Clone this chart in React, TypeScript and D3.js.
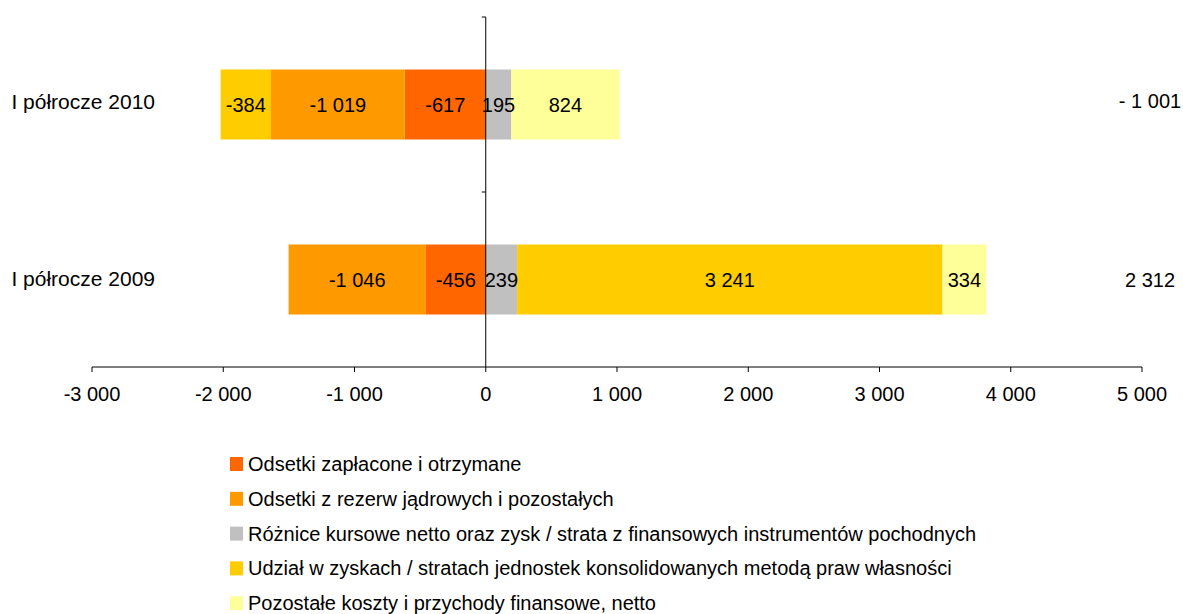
import React from "react";
import * as d3 from "d3";

// categories, top to bottom
const categories = ["I półrocze 2010", "I półrocze 2009"];

// series values (mln zł), same order as categories
const odsetkiZaplacone = [-617, -456];
const odsetkiRezerw = [-1019, -1046];
const roznice = [195, 239];
const udzial = [-384, 3241];
const pozostale = [824, 334];

const seriesNames = [
  "Odsetki zapłacone i otrzymane",
  "Odsetki z rezerw jądrowych i pozostałych",
  "Różnice kursowe netto oraz zysk / strata z finansowych instrumentów pochodnych",
  "Udział w zyskach / stratach jednostek konsolidowanych metodą praw własności",
  "Pozostałe koszty i przychody finansowe, netto",
];
const seriesValues = [odsetkiZaplacone, odsetkiRezerw, roznice, udzial, pozostale];
const colors = ["#FF6600", "#FF9900", "#C0C0C0", "#FFCC00", "#FFFF99"];

const xDomain = [-3000, 5000];

const W = 1183, H = 614;
const margin = { top: 17, left: 92, right: 41, bottom: 247 };
const FONT = "'Liberation Sans', Arial, sans-serif";

const locale = d3.formatLocale({ decimal: ",", thousands: "\u00a0", grouping: [3], currency: ["", " zł"] });
const fmt = locale.format(",d");
const fmtLabel = (v: number) => (v < 0 ? "-" + fmt(-v) : fmt(v));
const fmtTotal = (v: number) => (v < 0 ? "- " + fmt(-v) : fmt(v));

export default function App() {
  const x = d3.scaleLinear().domain(xDomain).range([margin.left, W - margin.right]);
  const y = d3
    .scaleBand()
    .domain(categories)
    .range([margin.top, H - margin.bottom])
    .paddingInner(0.6)
    .paddingOuter(0.3);

  const rows = categories.map((c, i) => {
    const row: any = { cat: c };
    seriesNames.forEach((s, j) => (row[s] = seriesValues[j][i]));
    return row;
  });
  const stacked = d3.stack().keys(seriesNames).offset(d3.stackOffsetDiverging)(rows);

  const axisY = H - margin.bottom;
  const x0 = x(0);
  const ticks = x.ticks(8);
  const mid = (c: string) => (y(c) as number) + y.bandwidth() / 2;

  return (
    <svg width={W} height={H} style={{ position: "absolute", left: 0, top: 0 }} fontFamily={FONT}>
      <rect width={W} height={H} fill="#fff" />

      {/* bars */}
      {stacked.map((s, j) => (
        <g key={seriesNames[j]}>
          {s.map((d: any, i) => {
            const a = x(d[0]), b = x(d[1]);
            return (
              <rect
                key={i}
                x={Math.min(a, b)}
                y={y(categories[i])}
                width={Math.abs(b - a)}
                height={y.bandwidth()}
                fill={colors[j]}
              />
            );
          })}
        </g>
      ))}

      {/* data labels */}
      {stacked.map((s, j) =>
        s.map((d: any, i) => {
          const v = seriesValues[j][i];
          const cx = (x(d[0]) + x(d[1])) / 2;
          return (
            <text
              key={j + "-" + i}
              x={cx}
              y={mid(categories[i])}
              dy="0.35em"
              textAnchor="middle"
              fontSize={20}
              fill="#000"
            >
              {fmtLabel(v)}
            </text>
          );
        })
      )}

      {/* vertical axis at zero */}
      <line x1={x0} x2={x0} y1={margin.top} y2={axisY} stroke="#000" strokeWidth={1} />
      {[margin.top, (margin.top + axisY) / 2].map((ty) => (
        <line key={ty} x1={x0 - 4} x2={x0} y1={ty} y2={ty} stroke="#000" />
      ))}

      {/* horizontal axis */}
      <line x1={x(xDomain[0])} x2={x(xDomain[1])} y1={axisY} y2={axisY} stroke="#000" />
      {ticks.map((t) => (
        <g key={t}>
          <line x1={x(t)} x2={x(t)} y1={axisY} y2={axisY + 5} stroke="#000" />
          <text x={x(t)} y={axisY + 27} dy="0.35em" textAnchor="middle" fontSize={20}>
            {fmtLabel(t)}
          </text>
        </g>
      ))}

      {/* category labels */}
      {categories.map((c, i) => (
        <text
          key={c}
          x={155}
          y={mid(c) - 3 + i * 2}
          dy="0.35em"
          textAnchor="end"
          fontSize={21}
        >
          {c}
        </text>
      ))}

      {/* totals */}
      {categories.map((c, i) => {
        const total = d3.sum(seriesValues, (s) => s[i]);
        return (
          <text
            key={"t" + c}
            x={1150}
            y={mid(c) - 4 + i * 4}
            dy="0.35em"
            textAnchor="middle"
            fontSize={20}
          >
            {fmtTotal(total)}
          </text>
        );
      })}

      {/* legend */}
      {seriesNames.map((s, j) => {
        const ly = 464 + j * 34.8;
        return (
          <g key={"l" + s}>
            <rect x={230} y={ly - 7} width={13} height={14} fill={colors[j]} />
            <text x={248} y={ly} dy="0.35em" fontSize={20}>
              {s}
            </text>
          </g>
        );
      })}
    </svg>
  );
}
